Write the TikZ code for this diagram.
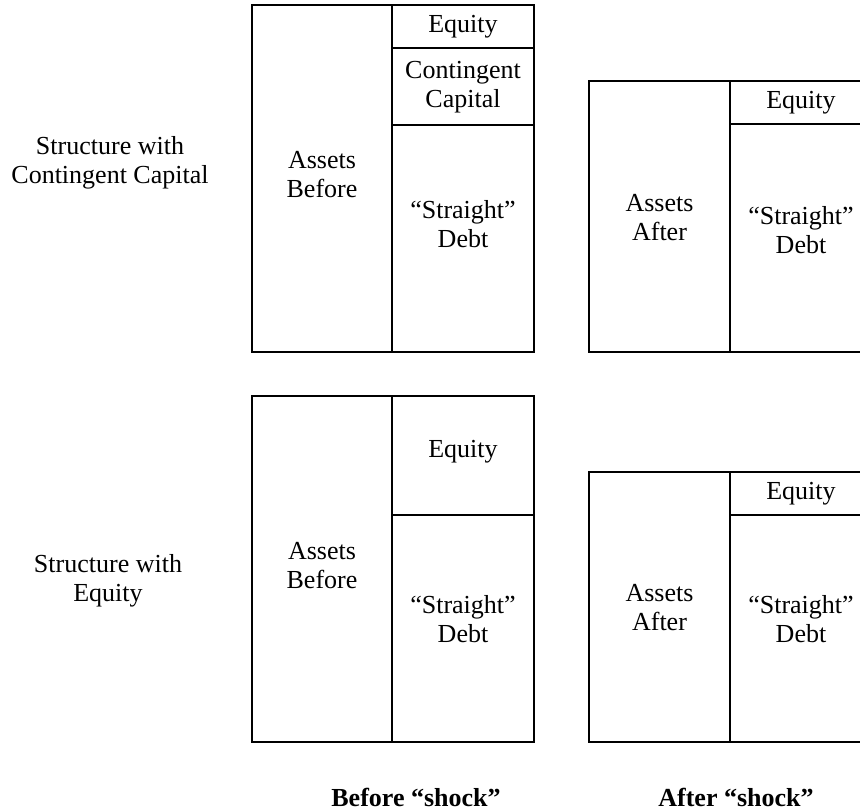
\documentclass[tikz,border=0pt]{standalone}
\usepackage{fontspec}
\setmainfont{Liberation Serif}
\begin{document}
\begin{tikzpicture}[x=1pt,y=-1pt,
  cell/.style={draw, line width=1.1pt, inner sep=0pt, outer sep=0pt},
  txt/.style={align=center, inner sep=0pt, font=\fontsize{26}{29}\selectfont},
  btxt/.style={align=center, inner sep=0pt, font=\fontsize{26}{29}\selectfont\bfseries}]
\useasboundingbox (0,0) rectangle (860,811);
\clip (0,0) rectangle (860,811);
% top before
\node[cell, minimum width=140pt, minimum height=347pt] (tba) at (322,178.5) {};
\node[cell, minimum width=142pt, minimum height=43pt] (tbe) at (463,26.5) {};
\node[cell, minimum width=142pt, minimum height=77pt] (tbc) at (463,86.5) {};
\node[cell, minimum width=142pt, minimum height=227pt] (tbd) at (463,238.5) {};
% top after
\node[cell, minimum width=141pt, minimum height=271pt] (taa) at (659.5,216.5) {};
\node[cell, minimum width=142pt, minimum height=43pt] (tae) at (801,102.5) {};
\node[cell, minimum width=142pt, minimum height=228pt] (tad) at (801,238) {};
% bottom before
\node[cell, minimum width=140pt, minimum height=346pt] (bba) at (322,569) {};
\node[cell, minimum width=142pt, minimum height=119pt] (bbe) at (463,455.5) {};
\node[cell, minimum width=142pt, minimum height=227pt] (bbd) at (463,628.5) {};
% bottom after
\node[cell, minimum width=141pt, minimum height=270pt] (baa) at (659.5,607) {};
\node[cell, minimum width=142pt, minimum height=43pt] (bae) at (801,493.5) {};
\node[cell, minimum width=142pt, minimum height=227pt] (bad) at (801,628.5) {};
% texts
\node[txt] (t1) at (322,175) {Assets\\Before};
\node[txt] (t2) at (463,27) {Equity};
\node[txt] (t3) at (463,87) {Contingent\\Capital};
\node[txt] (t4) at (463,224) {“Straight”\\Debt};
\node[txt] (t5) at (659.5,218) {Assets\\After};
\node[txt] (t6) at (801,103) {Equity};
\node[txt] (t7) at (801,230) {“Straight”\\Debt};
\node[txt] (t8) at (322,566) {Assets\\Before};
\node[txt] (t9) at (463,452) {Equity};
\node[txt] (t10) at (463,619) {“Straight”\\Debt};
\node[txt] (t11) at (659.5,608) {Assets\\After};
\node[txt] (t12) at (801,494) {Equity};
\node[txt] (t13) at (801,619) {“Straight”\\Debt};
\node[txt] (l1) at (110,163) {Structure with\\Contingent Capital};
\node[txt] (l2) at (108,581) {Structure with\\Equity};
\node[btxt] (b1) at (416,797) {Before “shock”};
\node[btxt] (b2) at (736,797) {After “shock”};
\end{tikzpicture}
\end{document}
